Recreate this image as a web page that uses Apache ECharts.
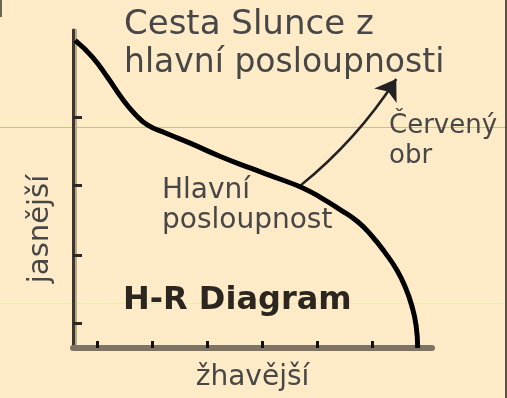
<!DOCTYPE html>
<html>
<head>
<meta charset="utf-8">
<script src="https://cdn.jsdelivr.net/npm/echarts@6/dist/echarts.min.js"></script>
<style>
  html, body { margin: 0; padding: 0; background: #ffebc8; }
  #chart { width: 507px; height: 398px; }
</style>
</head>
<body>
<div id="chart"></div>
<script>
// hlavní posloupnost (x = teplota, y = jasnost, libovolné jednotky)
const mainX = [0.04, 0.35, 0.64, 0.89, 1.13, 1.36, 1.67, 2.13, 2.67, 3.22, 3.76, 4.18, 4.53, 4.85, 5.18, 5.44, 5.67, 5.89, 6.05, 6.16, 6.24, 6.27];
const mainY = [4.46, 4.22, 3.91, 3.62, 3.39, 3.23, 3.12, 2.97, 2.78, 2.61, 2.45, 2.32, 2.17, 2.01, 1.83, 1.62, 1.39, 1.13, 0.87, 0.62, 0.33, 0.00];
// odbočka k červenému obrovi (start, hrot šipky)
const giantX = [4.13, 5.88];
const giantY = [2.35, 3.90];
// pozice značek na osách
const xTicks = [0.45, 1.45, 2.45, 3.45, 4.45, 5.45];
const yTicks = [0.36, 1.35, 2.36, 3.35];

const font = "DejaVu Sans";
const textColor = "#474747";

let myChart = echarts.init(document.getElementById("chart"));
myChart.setOption({
  backgroundColor: "#ffebc8",
  animation: false,
  grid: {
    left: 73,
    right: 75,
    top: 30,
    bottom: 50,
  },
  title: {
    text: "{a|Cesta Slunce z}\n{b|hlavní posloupnosti}",
    left: 119,
    top: 1,
    textStyle: {
      fontFamily: font,
      fontWeight: "normal",
      color: textColor,
      rich: {
        a: { fontFamily: font, fontSize: 34, lineHeight: 38, color: textColor },
        b: { fontFamily: font, fontSize: 33, lineHeight: 38, color: textColor },
      },
    },
  },
  xAxis: {
    type: "value",
    min: 0,
    max: 6.53,
    name: "žhavější",
    nameLocation: "middle",
    nameGap: 16,
    nameTextStyle: { fontFamily: font, fontSize: 28, color: textColor },
    axisLine: { lineStyle: { color: "#7f7464", width: 6 } },
    axisTick: {
      inside: true,
      length: 7,
      customValues: xTicks,
      lineStyle: { color: "#111", width: 3 },
    },
    axisLabel: { show: false },
    splitLine: { show: false },
  },
  yAxis: {
    type: "value",
    min: 0,
    max: 4.61,
    name: "jasnější",
    nameLocation: "middle",
    nameRotate: 90,
    nameGap: 18,
    nameTextStyle: {
      fontFamily: font,
      fontSize: 29,
      color: textColor,
      padding: [0, 80, 0, 0], // posun textu níž podél osy
    },
    axisLine: {
      lineStyle: {
        color: "#3b3631",
        width: 3,
        shadowColor: "#b9a98b",
        shadowOffsetX: 2,
        shadowBlur: 0,
      },
    },
    axisTick: {
      inside: true,
      length: 9,
      customValues: yTicks,
      lineStyle: { color: "#2a2a2a", width: 3 },
    },
    axisLabel: { show: false },
    splitLine: { show: false },
  },
  series: [
    {
      name: "Hlavní posloupnost",
      type: "line",
      data: mainX.map((x, i) => [x, mainY[i]]),
      showSymbol: false,
      smooth: 0.5,
      lineStyle: { color: "#000", width: 5 },
      z: 3,
    },
    {
      name: "Červený obr",
      type: "lines",
      coordinateSystem: "cartesian2d",
      symbol: ["none", "arrow"],
      symbolSize: [11, 20],
      lineStyle: { color: "#222", width: 2.5, curveness: -0.08, opacity: 1 },
      data: [{ coords: [[giantX[0], giantY[0]], [giantX[1], giantY[1]]] }],
      z: 2,
    },
  ],
  graphic: [
    // artefakty původního obrázku
    { type: "rect", z: 0, shape: { x: 0, y: 127, width: 507, height: 1 }, style: { fill: "#9be356" } },
    { type: "rect", z: 0, shape: { x: 0, y: 303, width: 507, height: 1 }, style: { fill: "#e4f0b0" } },
    { type: "rect", shape: { x: 505, y: 0, width: 2, height: 398 }, style: { fill: "#5e5040" } },
    { type: "rect", shape: { x: 0, y: 0, width: 2, height: 17 }, style: { fill: "#6b6555" } },
    {
      type: "text",
      z: 10,
      left: 389,
      top: 111,
      style: {
        text: "Červený\nobr",
        font: "26px 'DejaVu Sans'",
        lineHeight: 30,
        fill: textColor,
      },
    },
    {
      type: "text",
      z: 10,
      left: 162,
      top: 176,
      style: {
        text: "Hlavní\nposloupnost",
        font: "28px 'DejaVu Sans'",
        lineHeight: 30,
        fill: textColor,
      },
    },
    {
      type: "text",
      z: 10,
      left: 123,
      top: 285,
      style: {
        text: "H-R Diagram",
        font: "bold 32px 'DejaVu Sans'",
        fill: "#2b2720",
      },
    },
  ],
});
</script>
</body>
</html>
